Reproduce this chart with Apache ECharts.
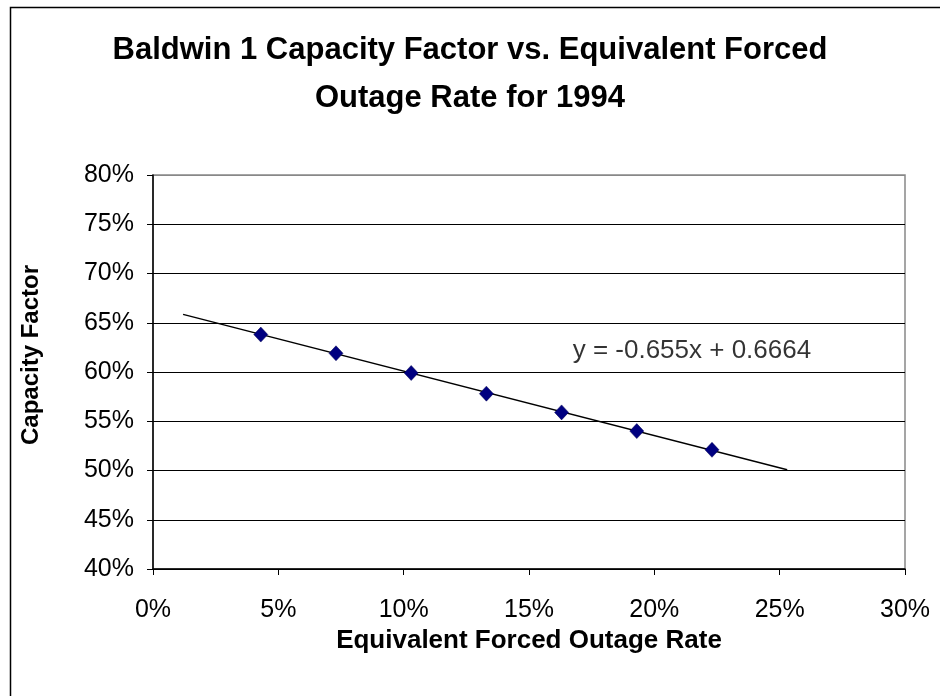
<!DOCTYPE html>
<html>
<head>
<meta charset="utf-8">
<script src="https://cdn.jsdelivr.net/npm/echarts@6/dist/echarts.min.js"></script>
<style>html,body{margin:0;padding:0;background:#fff}#c{width:940px;height:696px}</style>
</head>
<body>
<div id="c"></div>
<script>
const titleLines = ['Baldwin 1 Capacity Factor vs. Equivalent Forced', 'Outage Rate for 1994'];
const xAxisTitle = 'Equivalent Forced Outage Rate';
const yAxisTitle = 'Capacity Factor';
const eforValues = [0.043, 0.073, 0.103, 0.133, 0.163, 0.193, 0.223];
const capacityValues = [0.638, 0.619, 0.599, 0.578, 0.559, 0.540, 0.521];
const trendX = [0.012, 0.253];
const trendY = [0.6585, 0.5007];
const equationText = 'y = -0.655x + 0.6664';
const equationPos = [0.215, 0.622];
const xTicks = {min: 0, max: 0.30, interval: 0.05};
const yTicks = {min: 0.40, max: 0.80, interval: 0.05};

const FONT = '"Liberation Sans", Arial, sans-serif';
const chart = echarts.init(document.getElementById('c'), null, {renderer: 'canvas'});
const pct = v => Math.round(v * 100) + '%';

chart.setOption({
  animation: false,
  backgroundColor: '#fff',
  title: {
    text: titleLines.join('\n'),
    left: 'center',
    top: 21,
    textStyle: {fontFamily: FONT, fontSize: 31, fontWeight: 'bold', color: '#000', lineHeight: 48}
  },
  graphic: [{
    type: 'rect', left: 8, top: 5, z: -10,
    shape: {width: 1000, height: 1000},
    style: {fill: 'none', stroke: '#000', lineWidth: 1.5}
  }],
  grid: {left: 153, right: 35, top: 175, bottom: 127, show: true, borderColor: '#888', borderWidth: 1.5, backgroundColor: 'transparent'},
  xAxis: {
    type: 'value', min: xTicks.min, max: xTicks.max, interval: xTicks.interval,
    name: xAxisTitle, nameLocation: 'middle', nameGap: 59,
    nameTextStyle: {fontFamily: FONT, fontSize: 26, fontWeight: 'bold', color: '#000'},
    axisLine: {show: true, onZero: false, lineStyle: {color: '#000', width: 1.5}},
    axisTick: {show: true, inside: false, length: 6, lineStyle: {color: '#000', width: 1}},
    axisLabel: {fontFamily: FONT, fontSize: 25, color: '#000', margin: 29, formatter: pct},
    splitLine: {show: false}
  },
  yAxis: {
    type: 'value', min: yTicks.min, max: yTicks.max, interval: yTicks.interval,
    name: yAxisTitle, nameLocation: 'middle', nameGap: 110, nameRotate: 90,
    nameTextStyle: {fontFamily: FONT, fontSize: 24, fontWeight: 'bold', color: '#000', padding: [0, 0, 0, 34]},
    axisLine: {show: true, onZero: false, lineStyle: {color: '#000', width: 1.5}},
    axisTick: {show: true, inside: false, length: 6, lineStyle: {color: '#000', width: 1}},
    axisLabel: {fontFamily: FONT, fontSize: 25, color: '#000', margin: 19, formatter: pct},
    splitLine: {show: true, lineStyle: {color: ['#000','#000','#000','#000','#000','#000','#000','#000','#888'], width: 1}}
  },
  series: [
    {
      type: 'line', data: trendX.map((x, i) => [x, trendY[i]]),
      symbol: 'none', lineStyle: {color: '#000', width: 1.5}, z: 2, silent: true
    },
    {
      type: 'scatter', data: eforValues.map((x, i) => [x, capacityValues[i]]),
      symbol: 'diamond', symbolSize: [14, 15],
      itemStyle: {color: '#000080', opacity: 1, borderColor: '#000050', borderWidth: 0.5}, z: 3
    },
    {
      type: 'scatter', data: [equationPos], symbolSize: 0,
      label: {show: true, position: 'inside', formatter: equationText, fontFamily: FONT, fontSize: 26, color: '#000'},
      z: 4, silent: true
    }
  ]
});
</script>
</body>
</html>
